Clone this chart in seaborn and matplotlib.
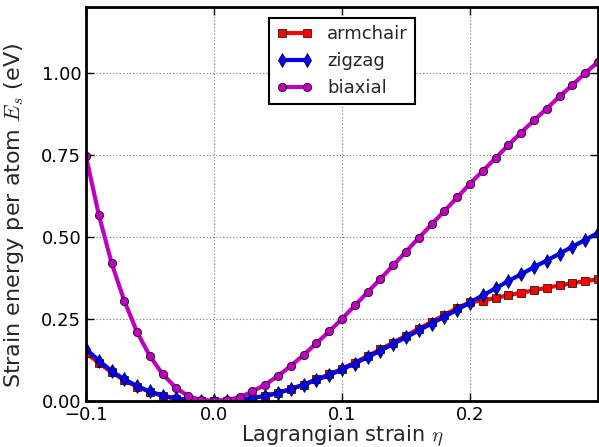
import numpy as np
import pandas as pd
import matplotlib
matplotlib.use("Agg")
import matplotlib.pyplot as plt
import seaborn as sns

strain = np.round(np.arange(-0.10, 0.3001, 0.01), 2)

armchair = [0.146, 0.116, 0.087, 0.063, 0.043, 0.028, 0.015, 0.007, 0.003, 0.001,
            0.000, 0.001, 0.004, 0.009, 0.016, 0.025, 0.037, 0.050, 0.066, 0.081,
            0.098, 0.117, 0.137, 0.157, 0.178, 0.199, 0.220, 0.241, 0.262, 0.283,
            0.301, 0.306, 0.314, 0.322, 0.330, 0.337, 0.345, 0.352, 0.359, 0.365,
            0.371]
zigzag = [0.158, 0.123, 0.091, 0.066, 0.045, 0.029, 0.016, 0.008, 0.003, 0.001,
          0.000, 0.001, 0.004, 0.009, 0.015, 0.024, 0.036, 0.049, 0.064, 0.079,
          0.096, 0.114, 0.134, 0.153, 0.174, 0.194, 0.215, 0.236, 0.257, 0.278,
          0.300, 0.322, 0.343, 0.366, 0.386, 0.408, 0.428, 0.449, 0.470, 0.491,
          0.512]
biaxial = [0.745, 0.567, 0.420, 0.304, 0.209, 0.136, 0.081, 0.041, 0.014, 0.003,
           0.000, 0.003, 0.011, 0.029, 0.050, 0.076, 0.107, 0.140, 0.176, 0.212,
           0.250, 0.291, 0.331, 0.372, 0.413, 0.455, 0.497, 0.538, 0.579, 0.620,
           0.662, 0.701, 0.740, 0.780, 0.818, 0.855, 0.891, 0.928, 0.963, 0.999,
           1.033]

yticks = [0.0, 0.25, 0.5, 0.75, 1.0]
xticks = [-0.1, 0.0, 0.1, 0.2]

df = pd.DataFrame({"strain": strain, "armchair": armchair,
                   "zigzag": zigzag, "biaxial": biaxial})

sns.set_style("ticks")
plt.rcParams["font.family"] = ["DejaVu Sans"]
plt.rcParams["mathtext.fontset"] = "cm"
plt.rcParams["font.size"] = 13

fig = plt.figure(figsize=(5.99, 4.47), dpi=100)
ax = fig.add_axes([0.1436, 0.103, 0.8547, 0.881])

styles = [("armchair", "#ff0000", "s", 6),
          ("zigzag", "#0000ff", "d", 7),
          ("biaxial", "#bf00bf", "o", 6)]
for name, col, mk, ms in styles:
    sns.lineplot(data=df, x="strain", y=name, ax=ax, color=col, lw=3,
                 marker=mk, markersize=ms, markeredgecolor="k",
                 markeredgewidth=0.5, label=name)

ax.set_xlim(-0.1, 0.3)
ax.set_ylim(0, 1.2)
ax.set_xticks(xticks)
ax.set_xticklabels(["\u22120.1", "0.0", "0.1", "0.2"])
ax.set_yticks(yticks)
ax.set_yticklabels(["0.00", "0.25", "0.50", "0.75", "1.00"])
ax.tick_params(direction="in", length=6, width=1, top=True, right=True,
               labelsize=13, colors="k")
ax.grid(True, color="0.45", linestyle=(0, (1, 2)), linewidth=0.8)
for sp in ax.spines.values():
    sp.set_linewidth(2)
    sp.set_color("k")

ax.set_xlabel(r"Lagrangian strain $\eta$", fontsize=15, labelpad=0)
ax.set_ylabel(r"Strain energy per atom $E_s$ (eV)", fontsize=16, labelpad=1)
ax.yaxis.set_label_coords(-0.118, 0.47)

leg = ax.legend(loc="upper center", numpoints=2, fancybox=False,
                framealpha=1, edgecolor="k", fontsize=13,
                borderaxespad=0.6, handlelength=2.0)
leg.get_frame().set_linewidth(1.5)

fig.savefig("out.png", dpi=100)
